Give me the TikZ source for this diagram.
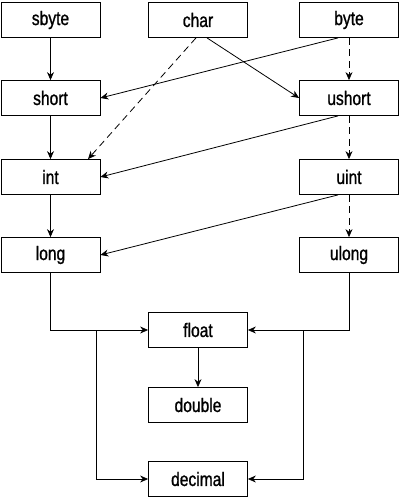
\documentclass[tikz,border=0pt]{standalone}
\usepackage{fontspec}
\setmainfont{Liberation Sans}[FakeStretch=0.8,FakeBold=1]
\usetikzlibrary{positioning,arrows.meta}

\begin{document}
\begin{tikzpicture}[node distance=78pt and 149pt,on grid,
    typebox/.style={draw,line width=0.8pt,minimum width=99pt,minimum height=35pt,
                    font=\fontsize{19.5}{22}\selectfont},
    >={Stealth[length=8pt,width=7pt]},line width=0.8pt]
    \useasboundingbox (0pt,0pt) rectangle (400pt,-498pt);
    \node[typebox] (sbyte) at (50.5pt,-20pt) {sbyte};
    \node[typebox] (char) [right=147.5pt of sbyte] {char};
    \node[typebox] (byte) [right=151pt of char] {byte};
    \node[typebox] (short) [below=of sbyte] {short};
    \node[typebox] (ushort) [below=of byte] {ushort};
    \node[typebox] (int) [below=79pt of short] {int};
    \node[typebox] (uint) [below=79pt of ushort] {uint};
    \node[typebox] (long) [below=of int] {long};
    \node[typebox] (ulong) [below=of uint] {ulong};
    \node[typebox] (float) [below right=75pt and 147.5pt of long] {float};
    \node[typebox] (double) [below=75pt of float] {double};
    \node[typebox] (decimal) [below=74pt of double] {decimal};
    \coordinate (jl) at ([xshift=-52pt]float.west);
    \coordinate (jr) at ([xshift=55pt]float.east);

    \path[->] (sbyte) edge (short)
              (short) edge (int)
              (int) edge (long)
              (float) edge (double)
              ([xshift=9pt]char.south) edge (ushort.west)
              ([xshift=-11pt]byte.south) edge (short.east)
              ([xshift=-11pt]ushort.south) edge (int.east)
              ([xshift=-11pt]uint.south) edge (long.east);
    \path[->,dash pattern=on 7pt off 4.5pt] (byte) edge (ushort)
                     (ushort) edge (uint)
                     (uint) edge (ulong)
                     ([xshift=-2pt]char.south) edge ([xshift=37.5pt]int.north);
    \draw[->] (long.south) |- (float.west);
    \draw[->] (ulong.south) |- (float.east);
    \draw[->] (jl) |- (decimal.west);
    \draw[->] (jr) |- (decimal.east);
\end{tikzpicture}
\end{document}
